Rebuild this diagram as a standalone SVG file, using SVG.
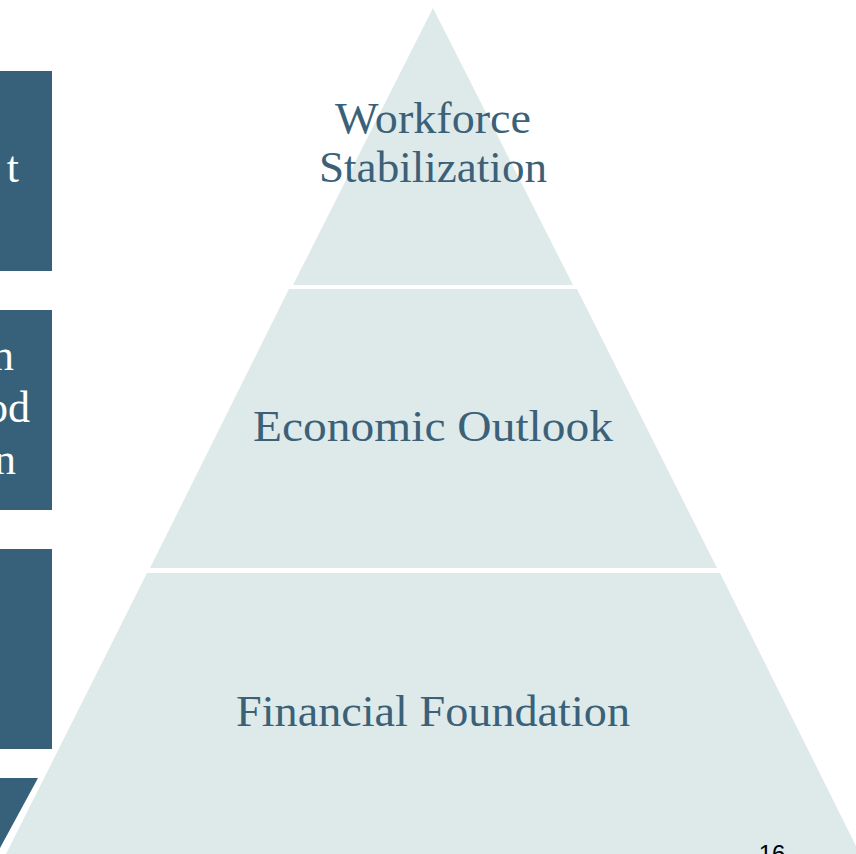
<svg xmlns="http://www.w3.org/2000/svg" width="856" height="854" viewBox="0 0 856 854">
<style>
.box{fill:#37617a}
.tier{fill:#deeaea}
.lbl{font-family:"Liberation Serif","DejaVu Serif",serif;font-size:45px;fill:#3b6179;text-anchor:middle}
.side{font-family:"Liberation Serif","DejaVu Serif",serif;font-size:44px;fill:#ffffff;text-anchor:end}
</style>
<rect width="856" height="854" fill="#ffffff"/>
<g id="box1"><rect class="box" x="0" y="71" width="52" height="200"/><text class="side" x="19" y="182">t</text></g>
<g id="box2"><rect class="box" x="0" y="310" width="52" height="200"/><text class="side" x="14" y="370">n</text><text class="side" x="30" y="422">od</text><text class="side" x="16" y="474">n</text></g>
<g id="box3"><rect class="box" x="0" y="549" width="52" height="200"/></g>
<g id="box4"><polygon class="box" points="0,778 38,778 0,848"/></g>
<g id="tier1"><polygon class="tier" points="433,8 573,285 293,285"/><text class="lbl" x="433" y="133" textLength="196" lengthAdjust="spacingAndGlyphs">Workforce</text><text class="lbl" x="433" y="182" textLength="228" lengthAdjust="spacingAndGlyphs">Stabilization</text></g>
<g id="tier2"><polygon class="tier" points="289,289 577,289 717,568 150,568"/><text class="lbl" x="433" y="441" textLength="360" lengthAdjust="spacingAndGlyphs">Economic Outlook</text></g>
<g id="tier3"><polygon class="tier" points="147,573 720,573 862,858 4,858"/><text class="lbl" x="433" y="726" textLength="394" lengthAdjust="spacingAndGlyphs">Financial Foundation</text></g>
<g id="connectors"></g>
<text x="772" y="862" font-family="Liberation Sans,Arial,sans-serif" font-size="24" fill="#000000" text-anchor="middle">16</text>
</svg>
